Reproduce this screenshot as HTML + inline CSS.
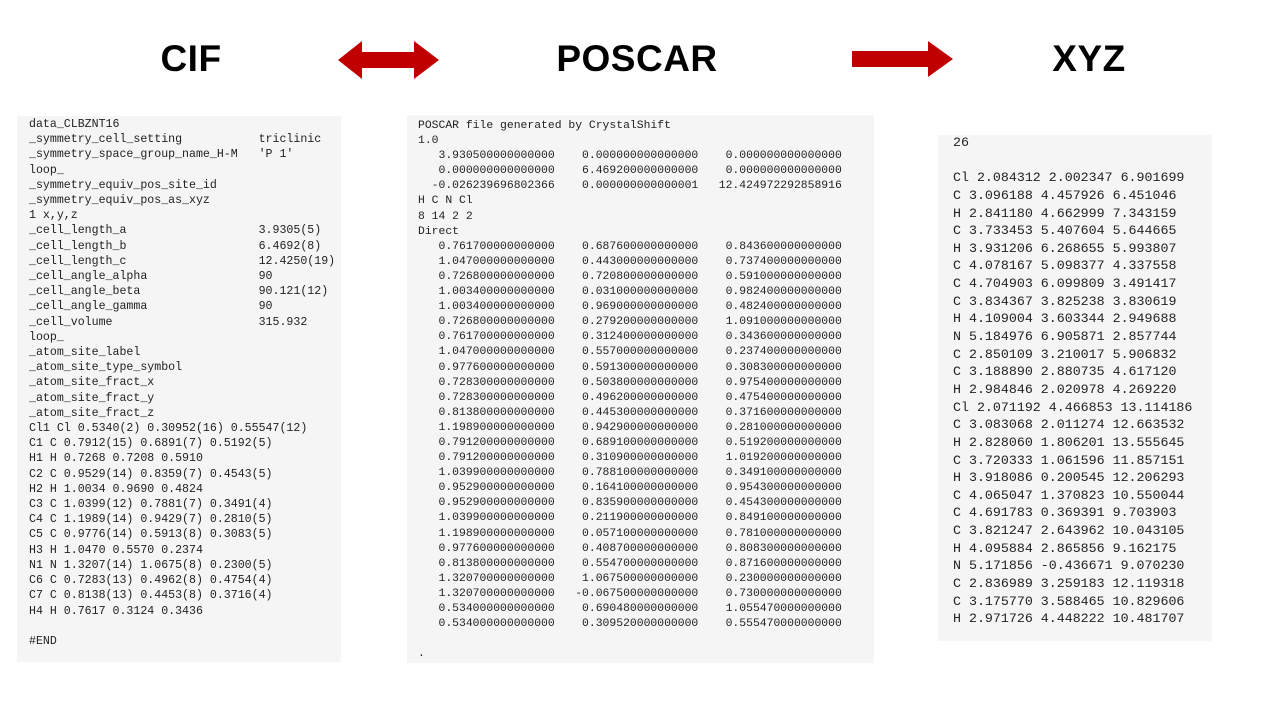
<!DOCTYPE html>
<html><head><meta charset="utf-8"><style>
body{margin:0;width:1280px;height:720px;background:#fff;position:relative;overflow:hidden;font-family:"Liberation Sans",sans-serif}
.t{position:absolute;font-weight:bold;font-size:37px;color:#000;transform:translateX(-50%);top:38px;letter-spacing:0.5px}
.p{position:absolute;background:#f5f5f5}
pre{position:absolute;margin:0;font-family:"Liberation Mono",monospace;color:#222;white-space:pre}
</style></head><body>
<div class="t" style="left:191px">CIF</div>
<div class="t" style="left:637px">POSCAR</div>
<div class="t" style="left:1089px">XYZ</div>
<svg style="position:absolute;left:0;top:0" width="1280" height="120">
<polygon fill="#c00000" points="338,60 362,41 362,52 414,52 414,41 439,60 414,79 414,68 362,68 362,79"/>
<polygon fill="#c00000" points="852,51 928,51 928,41 953,59 928,77 928,67 852,67"/>
</svg>
<div class="p" style="left:17px;top:116px;width:324px;height:546px"></div>
<pre style="left:29px;top:117px;font-size:11.6px;line-height:15.2px">data_CLBZNT16
_symmetry_cell_setting           triclinic
_symmetry_space_group_name_H-M   'P 1'
loop_
_symmetry_equiv_pos_site_id
_symmetry_equiv_pos_as_xyz
1 x,y,z
_cell_length_a                   3.9305(5)
_cell_length_b                   6.4692(8)
_cell_length_c                   12.4250(19)
_cell_angle_alpha                90
_cell_angle_beta                 90.121(12)
_cell_angle_gamma                90
_cell_volume                     315.932
loop_
_atom_site_label
_atom_site_type_symbol
_atom_site_fract_x
_atom_site_fract_y
_atom_site_fract_z
Cl1 Cl 0.5340(2) 0.30952(16) 0.55547(12)
C1 C 0.7912(15) 0.6891(7) 0.5192(5)
H1 H 0.7268 0.7208 0.5910
C2 C 0.9529(14) 0.8359(7) 0.4543(5)
H2 H 1.0034 0.9690 0.4824
C3 C 1.0399(12) 0.7881(7) 0.3491(4)
C4 C 1.1989(14) 0.9429(7) 0.2810(5)
C5 C 0.9776(14) 0.5913(8) 0.3083(5)
H3 H 1.0470 0.5570 0.2374
N1 N 1.3207(14) 1.0675(8) 0.2300(5)
C6 C 0.7283(13) 0.4962(8) 0.4754(4)
C7 C 0.8138(13) 0.4453(8) 0.3716(4)
H4 H 0.7617 0.3124 0.3436

#END</pre>
<div class="p" style="left:407px;top:115px;width:467px;height:548px"></div>
<pre style="left:418px;top:119px;font-size:11.4px;line-height:15.1px">POSCAR file generated by CrystalShift
1.0
   3.930500000000000    0.000000000000000    0.000000000000000
   0.000000000000000    6.469200000000000    0.000000000000000
  -0.026239696802366    0.000000000000001   12.424972292858916
H C N Cl
8 14 2 2
Direct
   0.761700000000000    0.687600000000000    0.843600000000000
   1.047000000000000    0.443000000000000    0.737400000000000
   0.726800000000000    0.720800000000000    0.591000000000000
   1.003400000000000    0.031000000000000    0.982400000000000
   1.003400000000000    0.969000000000000    0.482400000000000
   0.726800000000000    0.279200000000000    1.091000000000000
   0.761700000000000    0.312400000000000    0.343600000000000
   1.047000000000000    0.557000000000000    0.237400000000000
   0.977600000000000    0.591300000000000    0.308300000000000
   0.728300000000000    0.503800000000000    0.975400000000000
   0.728300000000000    0.496200000000000    0.475400000000000
   0.813800000000000    0.445300000000000    0.371600000000000
   1.198900000000000    0.942900000000000    0.281000000000000
   0.791200000000000    0.689100000000000    0.519200000000000
   0.791200000000000    0.310900000000000    1.019200000000000
   1.039900000000000    0.788100000000000    0.349100000000000
   0.952900000000000    0.164100000000000    0.954300000000000
   0.952900000000000    0.835900000000000    0.454300000000000
   1.039900000000000    0.211900000000000    0.849100000000000
   1.198900000000000    0.057100000000000    0.781000000000000
   0.977600000000000    0.408700000000000    0.808300000000000
   0.813800000000000    0.554700000000000    0.871600000000000
   1.320700000000000    1.067500000000000    0.230000000000000
   1.320700000000000   -0.067500000000000    0.730000000000000
   0.534000000000000    0.690480000000000    1.055470000000000
   0.534000000000000    0.309520000000000    0.555470000000000

.</pre>
<div class="p" style="left:938px;top:135px;width:274px;height:506px"></div>
<pre style="left:953px;top:134px;font-size:13.3px;line-height:17.64px">26

Cl 2.084312 2.002347 6.901699
C 3.096188 4.457926 6.451046
H 2.841180 4.662999 7.343159
C 3.733453 5.407604 5.644665
H 3.931206 6.268655 5.993807
C 4.078167 5.098377 4.337558
C 4.704903 6.099809 3.491417
C 3.834367 3.825238 3.830619
H 4.109004 3.603344 2.949688
N 5.184976 6.905871 2.857744
C 2.850109 3.210017 5.906832
C 3.188890 2.880735 4.617120
H 2.984846 2.020978 4.269220
Cl 2.071192 4.466853 13.114186
C 3.083068 2.011274 12.663532
H 2.828060 1.806201 13.555645
C 3.720333 1.061596 11.857151
H 3.918086 0.200545 12.206293
C 4.065047 1.370823 10.550044
C 4.691783 0.369391 9.703903
C 3.821247 2.643962 10.043105
H 4.095884 2.865856 9.162175
N 5.171856 -0.436671 9.070230
C 2.836989 3.259183 12.119318
C 3.175770 3.588465 10.829606
H 2.971726 4.448222 10.481707</pre>
</body></html>
